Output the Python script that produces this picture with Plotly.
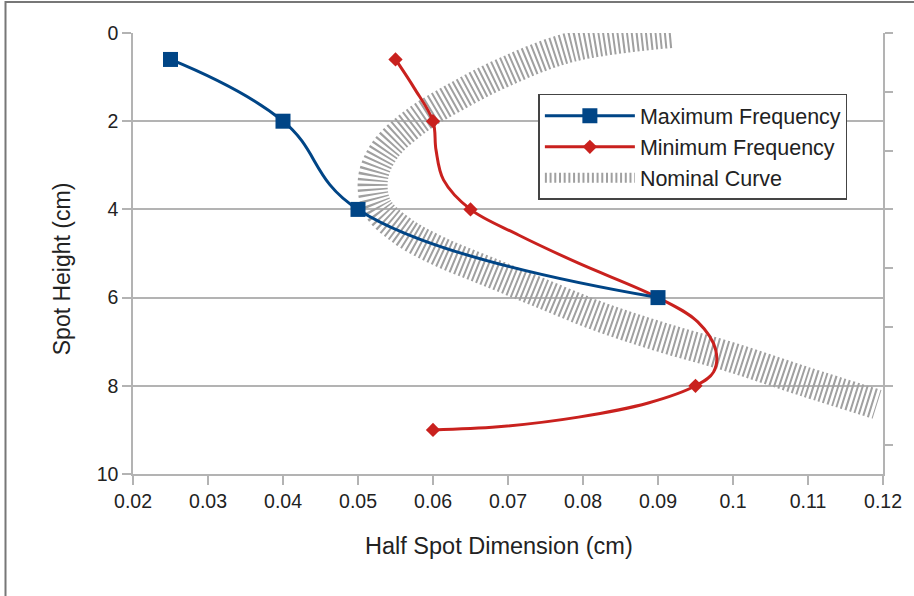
import plotly.graph_objects as go

# Measured spot profiles (half spot dimension in cm vs. spot height in cm)
max_freq_x = [0.025, 0.04, 0.05, 0.09]
max_freq_y = [0.6, 2.0, 4.0, 6.0]

min_freq_x = [0.055, 0.06, 0.065, 0.09, 0.095, 0.06]
min_freq_y = [0.6, 2.0, 4.0, 6.0, 8.0, 9.0]

# smoothed trace of the minimum-frequency profile as plotted
min_curve_x = [0.0550, 0.0575, 0.0600, 0.0604, 0.0614, 0.0650, 0.0714, 0.0794, 0.0900,
               0.0953, 0.0977, 0.0974, 0.0950, 0.0887, 0.0794, 0.0687, 0.0600]
min_curve_y = [0.60, 1.25, 2.00, 2.65, 3.33, 4.00, 4.58, 5.22, 6.00,
               6.55, 7.19, 7.69, 8.00, 8.39, 8.71, 8.93, 9.00]

nominal_x = [0.0917, 0.0784, 0.0696, 0.0630, 0.0577, 0.0536, 0.0520, 0.0526,
             0.0560, 0.0608, 0.0672, 0.0740, 0.0820, 0.0905, 0.0997, 0.1095, 0.1192]
nominal_y = [0.00, 0.32, 0.88, 1.45, 2.00, 2.65, 3.30, 3.95,
             4.50, 4.95, 5.40, 5.87, 6.42, 6.90, 7.35, 7.90, 8.42]

x_ticks = [0.02, 0.03, 0.04, 0.05, 0.06, 0.07, 0.08, 0.09, 0.10, 0.11, 0.12]
x_tick_text = ["0.02", "0.03", "0.04", "0.05", "0.06", "0.07", "0.08", "0.09", "0.1", "0.11", "0.12"]
y_ticks = [0, 2, 4, 6, 8, 10]
y_minor_ticks = [0, 4 / 3, 8 / 3, 4, 16 / 3, 20 / 3, 8, 28 / 3]

BLUE = "#004586"
RED = "#c9211e"
GRID = "#b3b3b3"
FONT = "Liberation Sans, Arial, sans-serif"
TEXT = "#222222"

fig = go.Figure()

fig.add_trace(go.Scatter(
    x=nominal_x, y=nominal_y, name="Nominal Curve", mode="lines",
    line=dict(color="#a0a0a0", width=30, dash="2px,2.7px", shape="spline", smoothing=1.0),
    legendrank=3, hoverinfo="skip",
))

# minimum frequency: smooth line, data markers, and a legend entry
fig.add_trace(go.Scatter(
    x=min_curve_x, y=min_curve_y, mode="lines", showlegend=False, hoverinfo="skip",
    line=dict(color=RED, width=3, shape="spline", smoothing=1.0),
))
fig.add_trace(go.Scatter(
    x=min_freq_x, y=min_freq_y, mode="markers", showlegend=False,
    name="Minimum Frequency", marker=dict(symbol="diamond", size=11, color=RED),
))
fig.add_trace(go.Scatter(
    x=[None], y=[None], name="Minimum Frequency", mode="lines+markers",
    line=dict(color=RED, width=3), marker=dict(symbol="diamond", size=11, color=RED),
    legendrank=2,
))

fig.add_trace(go.Scatter(
    x=max_freq_x, y=max_freq_y, name="Maximum Frequency", mode="lines+markers",
    line=dict(color=BLUE, width=3, shape="spline", smoothing=1.2),
    marker=dict(symbol="square", size=15, color=BLUE),
    legendrank=1,
))
# secondary axis carrying the right-hand tick marks
fig.add_trace(go.Scatter(x=[None], y=[None], yaxis="y2", showlegend=False, hoverinfo="skip"))

fig.update_layout(
    width=914, height=596,
    margin=dict(l=133, r=28, t=33, b=122),
    paper_bgcolor="white", plot_bgcolor="white",
    font=dict(family=FONT, color=TEXT, size=19.5),
    xaxis=dict(
        range=[0.02, 0.12], tickvals=x_ticks, ticktext=x_tick_text,
        showgrid=False, zeroline=False,
        showline=True, linecolor=GRID, linewidth=1.5,
        ticks="outside", ticklen=9, tickcolor=GRID, tickwidth=1.5,
        tickfont=dict(size=19.5, family=FONT, color=TEXT),
    ),
    yaxis=dict(
        range=[10, 0], tickvals=y_ticks,
        showgrid=True, gridcolor=GRID, gridwidth=1.5, zeroline=False,
        showline=True, linecolor=GRID, linewidth=1.5,
        ticks="outside", ticklen=9, tickcolor=GRID, tickwidth=1.5,
        tickfont=dict(size=19.5, family=FONT, color=TEXT),
    ),
    yaxis2=dict(
        overlaying="y", side="right", range=[10, 0],
        tickvals=y_minor_ticks, showticklabels=False,
        showgrid=False, zeroline=False,
        showline=True, linecolor=GRID, linewidth=1.5,
        ticks="outside", ticklen=8, tickcolor=GRID, tickwidth=1.5,
    ),
    legend=dict(
        x=0.5405, y=0.862, xanchor="left", yanchor="top",
        bgcolor="white", bordercolor="#444444", borderwidth=1.5,
        font=dict(size=21.5, family=FONT, color=TEXT),
        itemwidth=90, tracegroupgap=0,
    ),
    showlegend=True,
    annotations=[
        dict(text="Half Spot Dimension (cm)", xref="paper", yref="paper",
             x=0.4874, y=-0.1633, xanchor="center", yanchor="middle", showarrow=False,
             font=dict(size=23.5, family=FONT, color=TEXT)),
        dict(text="Spot Height (cm)", xref="paper", yref="paper",
             x=-0.0943, y=0.4649, xanchor="center", yanchor="middle", showarrow=False,
             textangle=-90, font=dict(size=23, family=FONT, color=TEXT)),
    ],
    shapes=[dict(
        type="rect", xref="paper", yref="paper",
        x0=-0.170, x1=1.15, y0=-0.30, y1=1.0703,
        line=dict(color="#777777", width=2), fillcolor="rgba(0,0,0,0)", layer="below",
    )],
)

fig.write_html("out.html")
